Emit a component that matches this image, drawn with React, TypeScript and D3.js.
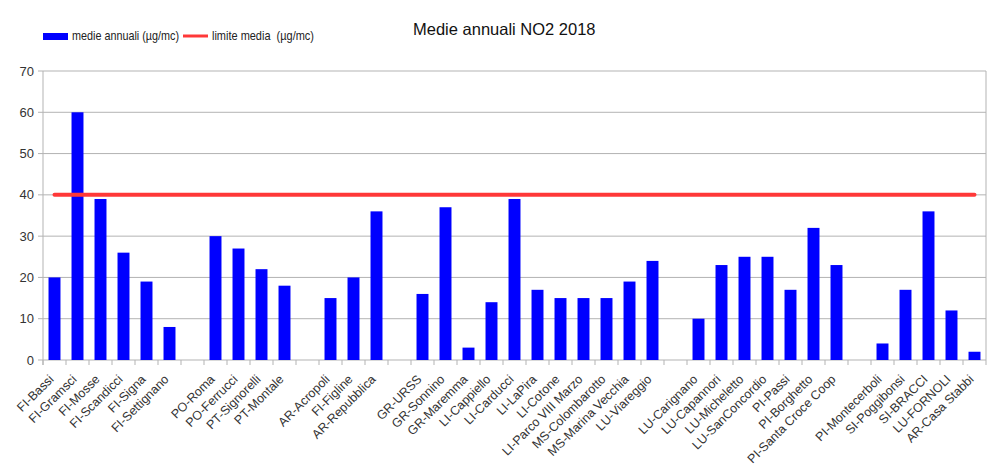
import React from "react";
import * as d3 from "d3";

const stations = [
  "FI-Bassi", "FI-Gramsci", "FI-Mosse", "FI-Scandicci", "FI-Signa", "FI-Settignano", "",
  "PO-Roma", "PO-Ferrucci", "PT-Signorelli", "PT-Montale", "",
  "AR-Acropoli", "FI-Figline", "AR-Repubblica", "",
  "GR-URSS", "GR-Sonnino", "GR-Maremma", "LI-Cappiello", "LI-Carducci", "LI-LaPira", "LI-Cotone",
  "LI-Parco VIII Marzo", "MS-Colombarotto", "MS-Marina Vecchia", "LU-Viareggio", "",
  "LU-Carignano", "LU-Capannori", "LU-Micheletto", "LU-SanConcordio", "PI-Passi", "PI-Borghetto",
  "PI-Santa Croce Coop", "",
  "PI-Montecerboli", "SI-Poggibonsi", "SI-BRACCI", "LU-FORNOLI", "AR-Casa Stabbi",
];
const annualMeans: (number | null)[] = [
  20, 60, 39, 26, 19, 8, null,
  30, 27, 22, 18, null,
  15, 20, 36, null,
  16, 37, 3, 14, 39, 17, 15,
  15, 15, 19, 24, null,
  10, 23, 25, 25, 17, 32,
  23, null,
  4, 17, 36, 12, 2,
];
const limitValue = 40;
const yTicks = [0, 10, 20, 30, 40, 50, 60, 70];
const title = "Medie annuali NO2 2018";
const legendBars = "medie annuali (µg/mc)";
const legendLine = "limite media  (µg/mc)";

const W = 1006, H = 468;
const left = 43, right = 986, top = 71, bottom = 360;
const font = "'Liberation Sans', Arial, sans-serif";

export default function App() {
  const idx = stations.map((_, i) => String(i));
  const x = d3.scaleBand<string>().domain(idx).range([left, right]).paddingInner(0.48).paddingOuter(0.24);
  const xb = d3.scaleBand<string>().domain(idx).range([left, right]);
  const y = d3.scaleLinear().domain([0, 70]).range([bottom, top]);
  const c0 = xb(idx[0])! + xb.bandwidth() / 2;
  const c1 = xb(idx[idx.length - 1])! + xb.bandwidth() / 2;
  const lineGen = d3.line<number>().x((d) => d).y(() => y(limitValue));
  return (
    <svg width={W} height={H} style={{ display: "block", position: "absolute", left: 0, top: 0, background: "#fff" }} fontFamily={font}>
      {yTicks.map((t) => (
        <g key={t}>
          <line x1={left - 5} x2={right} y1={y(t)} y2={y(t)} stroke="#b3b3b3" strokeWidth={1} />
          <text x={left - 9} y={y(t) + 4.5} textAnchor="end" fontSize={13} fill="#333">{t}</text>
        </g>
      ))}
      <line x1={left} x2={left} y1={top} y2={bottom + 5} stroke="#b3b3b3" />
      <line x1={right} x2={right} y1={top} y2={bottom + 5} stroke="#b3b3b3" />
      {idx.map((k) => (
        <line key={"t" + k} x1={xb(k)!} x2={xb(k)!} y1={bottom} y2={bottom + 5} stroke="#b3b3b3" />
      ))}
      {annualMeans.map((v, i) =>
        v == null ? null : (
          <rect key={"b" + i} x={x(idx[i])!} width={x.bandwidth()} y={y(v)} height={y(0) - y(v)} fill="#0000ff" />
        )
      )}
      <path d={lineGen([c0, c1])!} stroke="#ff3838" strokeWidth={4} fill="none" strokeLinecap="round" />
      {stations.map((s, i) => {
        const cx = xb(idx[i])! + xb.bandwidth() / 2;
        return (
          <text key={"l" + i} transform={`translate(${cx},${bottom + 20}) rotate(-45)`} textAnchor="end" fontSize={12.5} fill="#333">{s}</text>
        );
      })}
      <rect x={43} y={33} width={25} height={7} fill="#0000ff" />
      <text x={72} y={40} fontSize={13} fill="#222" textLength={107} lengthAdjust="spacingAndGlyphs">{legendBars}</text>
      <line x1={183} x2={208} y1={36} y2={36} stroke="#ff3838" strokeWidth={3} />
      <text x={212} y={40} fontSize={13} fill="#222" textLength={102} lengthAdjust="spacingAndGlyphs" style={{ whiteSpace: "pre" }}>{legendLine}</text>
      <text x={413} y={35} fontSize={16.5} fill="#111">{title}</text>
    </svg>
  );
}
